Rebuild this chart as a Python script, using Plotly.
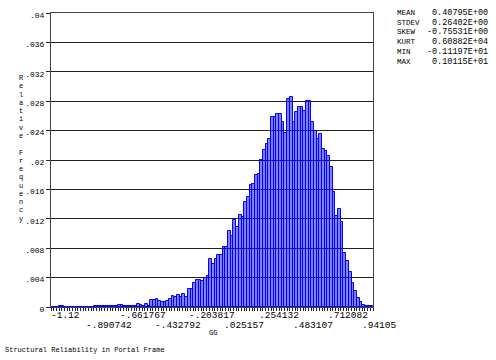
import plotly.graph_objects as go

# ---- data ----
data_min = -1.119717
data_max = 1.0115
rel_freq = [
    0, 0, 0.00005, 0.0001, 0.00018, 0.00005, 0.00005, 0.00005, 0, 0.00005,
    0.00005, 0, 0.00005, 0.00005, 0.00005, 0.00005, 0.0001, 0.00018, 0.00008, 0.00015,
    0.00008, 0.00015, 0.00015, 0.00008, 0.00008, 0.0003, 0.0003, 0.00015, 0.00015, 0.0002,
    0.0002, 0.0002, 0.0004, 0.0003, 0.0002, 0.00045, 0.0002, 0.0009, 0.0009, 0.00104,
    0.00077, 0.00073, 0.00073, 0.0008, 0.0011, 0.0015, 0.0013, 0.0017, 0.0014, 0.0018,
    0.0014, 0.0025, 0.0025, 0.0033, 0.0037, 0.0037, 0.0036, 0.0039, 0.0042, 0.0065,
    0.0058, 0.0065, 0.0071, 0.0071, 0.0082, 0.0082, 0.0104, 0.0097, 0.0118, 0.0109,
    0.0125, 0.0123, 0.0143, 0.0150, 0.0166, 0.0167, 0.0180, 0.0181, 0.0200, 0.0214,
    0.0222, 0.0229, 0.0258, 0.0258, 0.0263, 0.0263, 0.0252, 0.0237, 0.0283, 0.0286,
    0.0252, 0.0265, 0.0272, 0.0272, 0.0267, 0.0280, 0.0280, 0.0252, 0.0239, 0.0228,
    0.0235, 0.0215, 0.0212, 0.0205, 0.0190, 0.0156, 0.0124, 0.0134, 0.0116, 0.0074,
    0.0062, 0.0047, 0.0033, 0.0022, 0.0012, 0.0007, 0.0003, 0.0002, 0.0001, 0.0001,
]
ytick_values = [0, 0.004, 0.008, 0.012, 0.016, 0.02, 0.024, 0.028, 0.032, 0.036, 0.04]
ytick_labels = ["0", ".004", ".008", ".012", ".016", ".02", ".024", ".028", ".032", ".036", ".04"]
xtick_values = [-1.119717, -0.890742, -0.661767, -0.432792, -0.203817,
                0.025157, 0.254132, 0.483107, 0.712082, 0.94105]
xtick_labels = ["-1.12", "-.890742", "-.661767", "-.432792", "-.203817",
                ".025157", ".254132", ".483107", ".712082", ".94105"]
stat_names = ["MEAN", "STDEV", "SKEW", "KURT", "MIN", "MAX"]
stat_values = ["0.40795E+00", "0.26402E+00", "-0.75531E+00",
               "0.60882E+04", "-0.11197E+01", "0.10115E+01"]
x_title = "GG"
y_title = "Relative Frequency"
caption = "Structural Reliability in Portal Frame"

# ---- layout geometry (pixels) ----
W, H = 496, 360
L, R, T, B = 51, 123, 13, 53
PW, PH = W - L - R, H - T - B
FONT = "Liberation Mono"

n = len(rel_freq)
bw = (data_max - data_min) / n
centers = [data_min + (i + 0.5) * bw for i in range(n)]
edges = [data_min + i * bw for i in range(n + 1)]

fig = go.Figure()
fig.add_trace(go.Bar(
    x=centers, y=rel_freq, width=bw,
    marker=dict(color="rgba(0,0,255,0.5)", line=dict(color="#0000ff", width=1)),
    hoverinfo="skip",
))

def px_x(p):
    return (p - L) / PW

def px_y(p):
    return (H - B - p) / PH

def val_x(v):
    return (v - data_min) / (data_max - data_min)

ann = []
# x tick labels (alternating rows, left-anchored at the tick)
for k, (v, t) in enumerate(zip(xtick_values, xtick_labels)):
    ann.append(dict(x=val_x(v), xref="paper", y=0, yref="paper", text=t, showarrow=False,
                    xanchor="left", yanchor="middle", xshift=-2,
                    yshift=-8 if k % 2 == 0 else -18,
                    font=dict(family=FONT, size=9.5, color="black")))
# x title
ann.append(dict(x=px_x(213), xref="paper", y=0, yref="paper", text=x_title,
                showarrow=False, xanchor="center", yanchor="middle", yshift=-26,
                font=dict(family=FONT, size=7, color="black")))
# caption
ann.append(dict(x=px_x(3), xref="paper", y=0, yref="paper", text=caption,
                showarrow=False, xanchor="left", yanchor="middle", yshift=-43,
                font=dict(family=FONT, size=7, color="black")))
# vertical stacked y title
for k, ch in enumerate(y_title):
    if ch == " ":
        continue
    ann.append(dict(x=px_x(21), xref="paper", y=px_y(78 + 8.28 * k), yref="paper",
                    text=ch, showarrow=False, xanchor="center", yanchor="middle",
                    font=dict(family=FONT, size=7, color="black")))
# stats box
for k, (nm, val) in enumerate(zip(stat_names, stat_values)):
    yy = px_y(13 + 9.7 * k)
    ann.append(dict(x=px_x(395), xref="paper", y=yy, yref="paper", text=nm,
                    showarrow=False, xanchor="left", yanchor="middle",
                    font=dict(family=FONT, size=7.5, color="black")))
    ann.append(dict(x=px_x(490), xref="paper", y=yy, yref="paper", text=val,
                    showarrow=False, xanchor="right", yanchor="middle",
                    font=dict(family=FONT, size=8.5, color="black")))

fig.update_layout(
    width=W, height=H,
    margin=dict(l=L, r=R, t=T, b=B, pad=0),
    paper_bgcolor="white", plot_bgcolor="white",
    showlegend=False, bargap=0,
    annotations=ann,
    xaxis=dict(range=[data_min, data_max], tickvals=edges, showticklabels=False,
               ticks="outside", ticklen=3, tickwidth=1, tickcolor="#222",
               showgrid=False, zeroline=False, showline=True, linecolor="#444",
               linewidth=1, mirror=True),
    yaxis=dict(range=[0, 0.04], tickvals=ytick_values, ticktext=ytick_labels,
               ticks="outside", ticklen=4, tickcolor="#222",
               showgrid=True, gridcolor="#222", gridwidth=1,
               zeroline=False, showline=True, linecolor="#444", linewidth=1,
               mirror=True, ticklabelshift=2,
               tickfont=dict(family=FONT, size=8, color="black")),
)

fig.write_html("out.html", config={"displayModeBar": False},
               post_script="document.body.style.margin='0px';")
